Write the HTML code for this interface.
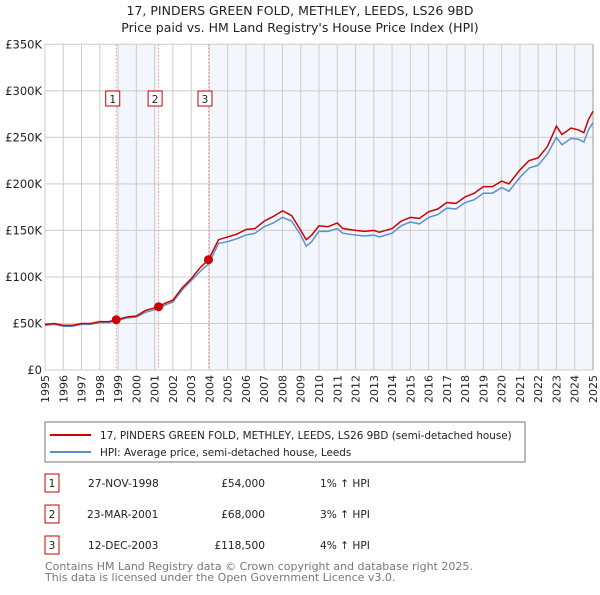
<!DOCTYPE html>
<html><head><meta charset="utf-8"><style>
body{margin:0;background:#fff;font-family:"Liberation Sans","DejaVu Sans",sans-serif;}
svg text{font-family:"DejaVu Sans","Liberation Sans",sans-serif;}
</style></head><body>
<svg id="c" width="600" height="590" xmlns="http://www.w3.org/2000/svg">
<text x="300" y="15" text-anchor="middle" font-size="12.5" fill="#222">17, PINDERS GREEN FOLD, METHLEY, LEEDS, LS26 9BD</text>
<text x="300" y="32" text-anchor="middle" font-size="12.5" fill="#222">Price paid vs. HM Land Registry's House Price Index (HPI)</text>
<g id="plot"></g>
<g>
<rect x="45" y="422" width="480" height="40" fill="#fff" stroke="#777"/>
<line x1="50" y1="435" x2="91" y2="435" stroke="#cc0000" stroke-width="2"/>
<text x="100" y="439" font-size="10.4" fill="#222">17, PINDERS GREEN FOLD, METHLEY, LEEDS, LS26 9BD (semi-detached house)</text>
<line x1="50" y1="452" x2="91" y2="452" stroke="#5b8fd0" stroke-width="2"/>
<text x="100" y="456" font-size="10.4" fill="#222">HPI: Average price, semi-detached house, Leeds</text>
</g>
<g font-size="10.6" fill="#222">
<rect x="45" y="474" width="14" height="18" fill="#fff" stroke="#cc0000"/><text x="52" y="487" text-anchor="middle">1</text>
<text x="88" y="487">27-NOV-1998</text><text x="265" y="487" text-anchor="end">£54,000</text><text x="320" y="487">1% ↑ HPI</text>
<rect x="45" y="505" width="14" height="18" fill="#fff" stroke="#cc0000"/><text x="52" y="518" text-anchor="middle">2</text>
<text x="87" y="518">23-MAR-2001</text><text x="265" y="518" text-anchor="end">£68,000</text><text x="320" y="518">3% ↑ HPI</text>
<rect x="45" y="536" width="14" height="18" fill="#fff" stroke="#cc0000"/><text x="52" y="549" text-anchor="middle">3</text>
<text x="88" y="549">12-DEC-2003</text><text x="265" y="549" text-anchor="end">£118,500</text><text x="320" y="549">4% ↑ HPI</text>
</g>
<text x="45" y="570" font-size="11" fill="#777">Contains HM Land Registry data © Crown copyright and database right 2025.</text>
<text x="45" y="581" font-size="11" fill="#777">This data is licensed under the Open Government Licence v3.0.</text>
</svg>
<script>
const yTicks=[0,50,100,150,200,250,300,350];
const years=[1995,1996,1997,1998,1999,2000,2001,2002,2003,2004,2005,2006,2007,2008,2009,2010,2011,2012,2013,2014,2015,2016,2017,2018,2019,2020,2021,2022,2023,2024,2025];
const redT=[1995,1995.5,1996,1996.5,1997,1997.5,1998,1998.5,1998.9,1999.5,2000,2000.5,2001.22,2001.6,2002,2002.5,2003,2003.5,2003.95,2004.5,2005,2005.5,2006,2006.5,2007,2007.5,2008,2008.5,2009,2009.3,2009.6,2010,2010.5,2011,2011.3,2012,2012.5,2013,2013.3,2014,2014.5,2015,2015.5,2016,2016.5,2017,2017.5,2018,2018.5,2019,2019.5,2020,2020.4,2021,2021.5,2022,2022.5,2023,2023.3,2023.8,2024.2,2024.5,2024.75,2025];
const redV=[49,50,48,48,50,50,52,52,54,57,58,64,68,72,75,88,98,110,118.5,140,143,146,151,152,160,165,171,166,150,140,145,155,154,158,152,150,149,150,148,152,160,164,163,170,173,180,179,186,190,197,197,203,200,215,225,228,240,262,253,260,258,255,269,278];
const hpiV=[48,49,47,47,49,49,51,51,53,56,57,62,66,70,73,86,96,106,114,136,138,141,145,147,154,158,164,160,145,133,138,149,149,152,147,145,144,145,143,147,155,159,157,164,167,174,173,180,183,190,190,196,192,207,217,220,232,250,242,249,248,245,258,266];
const sales=[[1998.9,54],[2001.22,68],[2003.95,118.5]];
const L=45,R=593,T=44.3,B=370;
const X=t=>L+(t-1995)/30*(R-L), Y=v=>B-v/350*(B-T);
const NS='http://www.w3.org/2000/svg', g=document.getElementById('plot');
function mk(tag,a){const e=document.createElementNS(NS,tag);for(const k in a)e.setAttribute(k,a[k]);g.appendChild(e);return e;}
let r;
r=mk('rect',{x:X(sales[0][0]),y:T,width:X(sales[1][0])-X(sales[0][0]),height:B-T,fill:'#f3f6fd'});


r=mk('rect',{x:X(sales[2][0]),y:T,width:R-X(sales[2][0]),height:B-T,fill:'#f3f6fd'});


years.forEach(y=>{const l=mk('line',{x1:X(y),x2:X(y),y1:T,y2:B,stroke:'#ccc'});


const t=mk('text',{x:0,y:0,'font-size':11,fill:'#222','text-anchor':'end',transform:`translate(${X(y)+4},${B+5}) rotate(-90)`});t.textContent=y;

});
yTicks.forEach(v=>{const l=mk('line',{x1:L,x2:R,y1:Y(v),y2:Y(v),stroke:'#ccc'});


const t=mk('text',{x:L-3,y:Y(v)+4,'font-size':11.5,fill:'#222','text-anchor':'end'});t.textContent=v?('£'+v+'K'):'£0';

});
const b=mk('line',{x1:R,x2:R,y1:T,y2:B,stroke:'#999'});


sales.forEach((s,i)=>{const l=mk('line',{x1:X(s[0]),x2:X(s[0]),y1:T,y2:B,stroke:'#f77','stroke-width':0.8,'stroke-dasharray':'1.5,2'});


const bx=mk('rect',{x:X(s[0])-10.5,y:91,width:14,height:15,fill:'#fff',stroke:'#cc0000'});


const t=mk('text',{x:X(s[0])-3.5,y:103,'font-size':10.5,fill:'#222','text-anchor':'middle'});t.textContent=i+1;

});
const hp=mk('polyline',{points:redT.map((t,i)=>X(t)+','+Y(hpiV[i])).join(' '),fill:'none',stroke:'#5b8fd0','stroke-width':1.5});


const rp=mk('polyline',{points:redT.map((t,i)=>X(t)+','+Y(redV[i])).join(' '),fill:'none',stroke:'#cc0000','stroke-width':1.5});


sales.forEach(s=>{const c=mk('circle',{cx:X(s[0]),cy:Y(s[1]),r:4.5,fill:'#cc0000'});

});
</script>
</body></html>
